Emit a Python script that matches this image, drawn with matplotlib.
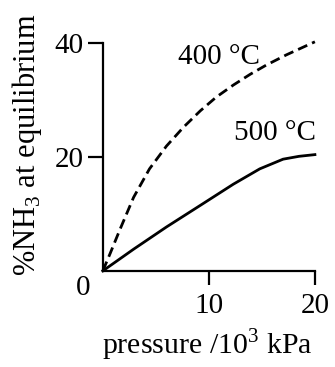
import matplotlib
matplotlib.use("Agg")
import matplotlib.pyplot as plt

plt.rcParams['font.family'] = ['Liberation Serif', 'DejaVu Serif']
plt.rcParams['mathtext.fontset'] = 'custom'
plt.rcParams['mathtext.rm'] = 'Liberation Serif'

# values
pressure_400 = [0, 0.7, 1.6, 2.9, 4.4, 6, 7.6, 9.2, 10.7, 12.3, 13.9, 15.4, 17.3, 20]
nh3_400 = [0, 3.1, 7.2, 12.9, 17.9, 21.9, 25.2, 28.1, 30.5, 32.6, 34.5, 36.1, 37.9, 40.2]
pressure_500 = [0, 1.3, 2.9, 6, 9.2, 12.3, 14.8, 17, 18.5, 20]
nh3_500 = [0, 1.7, 3.8, 7.7, 11.5, 15.2, 17.9, 19.6, 20.1, 20.4]
x_ticks = [10, 20]
y_ticks = [20, 40]

fig = plt.figure(figsize=(3.35, 3.67), dpi=100)
ax = fig.add_axes([0.307, 0.262, 0.633, 0.621])

ax.plot(pressure_400, nh3_400, color='black', lw=2.0, ls=(0, (3.6, 1.9)),
        clip_on=False)
ax.plot(pressure_500, nh3_500, color='black', lw=2.0, clip_on=False)

ax.set_xlim(0, 20)
ax.set_ylim(0, 40)
for s in ['top', 'right']:
    ax.spines[s].set_visible(False)
for s in ['left', 'bottom']:
    ax.spines[s].set_linewidth(1.6)

ax.set_xticks(x_ticks)
ax.set_yticks(y_ticks)
ax.tick_params(axis='x', direction='out', length=10, width=1.6, pad=6, labelsize=21)
ax.tick_params(axis='y', direction='out', length=11, width=1.6, pad=3, labelsize=21)

ax.text(-1.9, -3.0, '0', ha='center', va='center', fontsize=21)
ax.text(11.0, 37.5, '400 °C', ha='center', va='center', fontsize=21)
ax.text(16.2, 24.2, '500 °C', ha='center', va='center', fontsize=21)

ax.set_xlabel('pressure /10$^3$ kPa', fontsize=21.5)
ax.xaxis.label.set_va('center')
ax.xaxis.set_label_coords(0.495, -0.325)
ax.set_ylabel('%NH$_3$ at equilibrium', fontsize=22)
ax.yaxis.label.set_va('center')
ax.yaxis.set_label_coords(-0.358, 0.553)

fig.savefig('out.png', dpi=100)
